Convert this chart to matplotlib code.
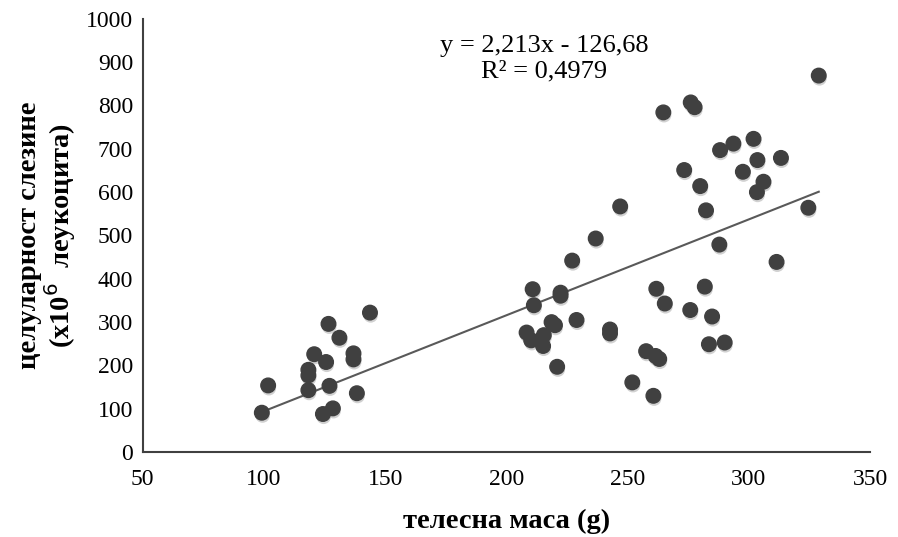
import numpy as np
import matplotlib
matplotlib.use('Agg')
import matplotlib.pyplot as plt
import matplotlib.patheffects as pe

plt.rcParams['font.family'] = ['Liberation Serif', 'DejaVu Serif']

# body mass (g) and spleen cellularity (x10^6 leukocytes)
mass = [143.7, 126.6, 131.1, 120.7, 125.6, 136.9, 136.9, 118.3, 118.3, 101.7,
        118.3, 127.0, 138.3, 99.1, 128.4, 124.3,
        246.9, 236.8, 227.1, 210.8, 222.3, 222.3, 211.3, 218.6, 220.0, 228.9,
        208.3, 210.2, 215.4, 215.1, 242.7, 242.7, 220.9, 251.9,
        328.8, 276.0, 277.6, 264.7, 288.1, 293.6, 301.9, 303.5, 313.2, 273.3,
        297.5, 279.9, 306.0, 303.3, 282.3, 324.5, 287.8, 311.4, 261.8, 281.8,
        265.3, 275.8, 284.8, 283.5, 290.0, 257.6, 261.5, 263.0, 260.6]
cells = [322, 296, 264, 226, 208, 228, 214, 190, 177, 154,
         143, 153, 136, 91, 101, 88,
         567, 493, 442, 376, 368, 361, 339, 300, 293, 305,
         276, 258, 270, 245, 283, 274, 197, 161,
         869, 807, 796, 784, 697, 712, 723, 674, 679, 651,
         647, 614, 624, 600, 558, 564, 479, 439, 377, 382,
         343, 328, 313, 249, 253, 233, 222, 215, 130]

slope = 2.213
intercept = -126.68
r2_text = 'R² = 0,4979'
eq_text = 'y = 2,213x - 126,68'

fig = plt.figure(figsize=(8.98, 5.37), dpi=100)
ax = fig.add_axes([0.159, 0.158, 0.81, 0.807])

ax.scatter(mass, cells, s=110, color='#404040', zorder=3,
           path_effects=[pe.SimplePatchShadow(offset=(0.5, -2), shadow_rgbFace='#999999', alpha=0.45),
                         pe.Normal()])

xl = np.array([min(mass), max(mass)])
ax.plot(xl, slope * xl + intercept, color='#595959', lw=1.5, zorder=2)

ax.text(0.552, 0.962, eq_text + '\n' + r2_text, transform=ax.transAxes,
        ha='center', va='top', fontsize=19, linespacing=1.2)

ax.set_xlim(50, 350)
ax.set_ylim(0, 1000)
ax.set_xticks(range(50, 351, 50))
ax.set_yticks(range(0, 1001, 100))
ax.tick_params(length=0, labelsize=17)
ax.tick_params(axis='x', pad=12)
ax.tick_params(axis='y', pad=7)
for s in ['top', 'right']:
    ax.spines[s].set_visible(False)
for s in ['left', 'bottom']:
    ax.spines[s].set_color('#404040')
    ax.spines[s].set_linewidth(1.5)

ax.set_xlabel('телесна маса (g)', fontsize=20.5, fontweight='bold', labelpad=14)
ax.set_ylabel('целуларност слезине\n(x10$^{6}$  леукоцита)', fontsize=20.5,
              fontweight='bold', labelpad=6, linespacing=1.0)

fig.savefig('out.png', dpi=100)
